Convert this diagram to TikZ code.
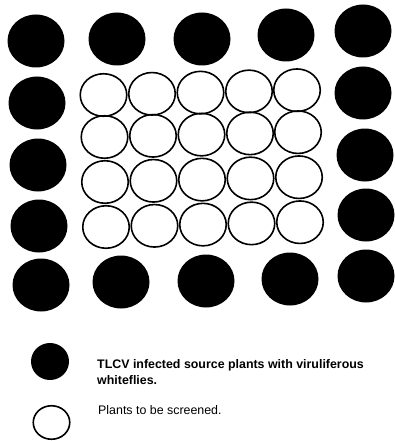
\documentclass[tikz,border=0pt]{standalone}
\usepackage{fontspec}
\setmainfont{Liberation Sans}
\usetikzlibrary{shapes.geometric}

\begin{document}
\begin{tikzpicture}[
			x=1pt, y=-1pt,
			source/.style={ellipse, fill=black, inner sep=0pt, minimum width=57pt, minimum height=53pt},
			screen/.style={ellipse, draw=black, line width=1.6pt, inner sep=0pt, minimum width=46.5pt, minimum height=42.5pt},
			legtext/.style={anchor=base west, inner sep=0pt, font=\fontsize{12.4}{16}\selectfont},
			]
			\useasboundingbox (0,0) rectangle (394,441);

			% --- Source plants round the edge ---
			\node[source] (t1) at (36,41) {}; \node[source] (t2) at (117,39) {}; \node[source] (t3) at (202,39) {};
			\node[source] (t4) at (286,35) {}; \node[source] (t5) at (363,31) {};

			\node[source] (l2) at (37,103) {}; \node[source] (l3) at (38,165) {}; \node[source] (l4) at (39,226) {};
			\node[source] (r2) at (363,93) {}; \node[source] (r3) at (365,155) {}; \node[source] (r4) at (366,215) {};

			\node[source] (b1) at (41,285) {}; \node[source] (b2) at (121,282) {}; \node[source] (b3) at (206,281) {};
			\node[source] (b4) at (290,279) {}; \node[source] (b5) at (366,276) {};

			% --- Plants to be screened (4 rows of 5) ---
			\node[screen] (p11) at (103.5,95) {}; \node[screen] (p12) at (152,93.8) {}; \node[screen] (p13) at (200.5,92.6) {};
			\node[screen] (p14) at (249,91.4) {}; \node[screen] (p15) at (297,90.2) {};

			\node[screen] (p21) at (104.5,137) {}; \node[screen] (p22) at (153,135.8) {}; \node[screen] (p23) at (201.5,134.6) {};
			\node[screen] (p24) at (250,133.4) {}; \node[screen] (p25) at (298,132.2) {};

			\node[screen] (p31) at (105,182) {}; \node[screen] (p32) at (153.5,180.8) {}; \node[screen] (p33) at (202,179.6) {};
			\node[screen] (p34) at (250.5,178.4) {}; \node[screen] (p35) at (299,177.2) {};

			\node[screen] (p41) at (106,227) {}; \node[screen] (p42) at (154.5,225.8) {}; \node[screen] (p43) at (203,224.6) {};
			\node[screen] (p44) at (251.5,223.4) {}; \node[screen] (p45) at (300,222.2) {};

			% Legend
			\node[source, minimum width=38pt, minimum height=37pt] (keysrc) at (50,361.5) {};
			\node[screen, minimum width=36.5pt, minimum height=33.5pt] (keyscr) at (51.5,422.5) {};

			\node[legtext, font=\fontsize{12.4}{16}\selectfont\bfseries] (keysrca) at (97,368) {TLCV infected source plants with viruliferous};
			\node[legtext, font=\fontsize{12.4}{16}\selectfont\bfseries] (keysrcb) at (97,384) {whiteflies.};
			\node[legtext] (keyscrtxt) at (98,414.5) {Plants to be screened.};

		\end{tikzpicture}
\end{document}
